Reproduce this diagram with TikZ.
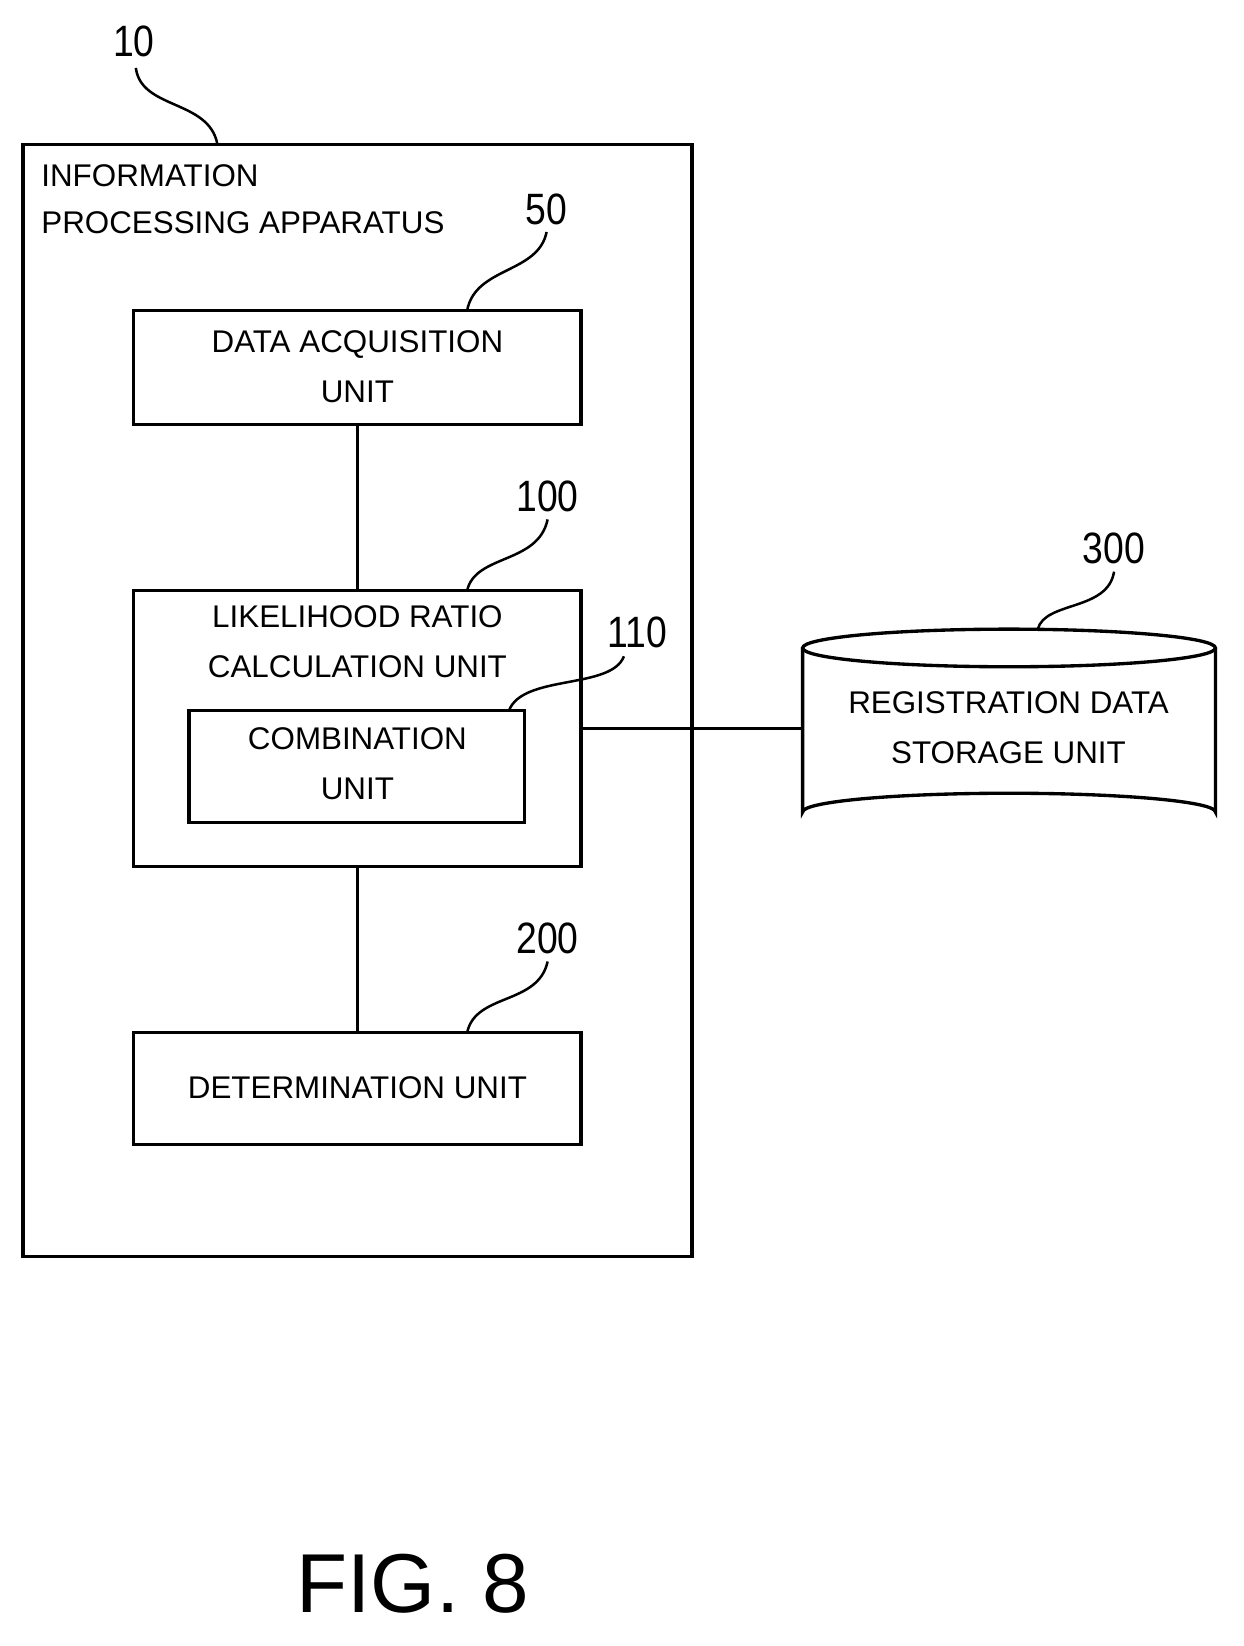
\documentclass[tikz,border=0pt]{standalone}
\usepackage{fontspec}
\setmainfont{Liberation Sans}
\usetikzlibrary{shapes.geometric}
\begin{document}
\begin{tikzpicture}[x=0.5pt,y=-0.5pt,line width=1.6pt,
  box/.style={draw,fill=white},
  txt/.style={font=\fontsize{15}{18}\selectfont,align=center,inner sep=0pt},
  num/.style={font=\fontsize{21}{24}\selectfont,inner sep=0pt,xscale=0.85},
  lead/.style={line width=1.2pt}]
\useasboundingbox (0,0) rectangle (1190,1575);
% outer
\draw (22,138) rectangle (662,1202);
\node[num] (n10) at (128,40) {10};
\draw[lead] (130,65) .. controls (135,105) and (200,95) .. (208,138);
\node[txt,anchor=west] (t1) at (38,168) {INFORMATION};
\node[txt,anchor=west] (t2) at (38,213) {PROCESSING APPARATUS};
% data acquisition
\draw[box] (128,297) rectangle (556,406);
\node[txt] (daq) at (342,351) {DATA ACQUISITION\\[6pt]UNIT};
\node[num] (n50) at (523,200) {50};
\draw[lead] (523,222) .. controls (515,262) and (455,255) .. (447,297);
% LRC
\draw (342,406) -- (342,565);
\draw[box] (128,565) rectangle (556,829);
\node[txt] (lrc) at (342,614) {LIKELIHOOD RATIO\\[6pt]CALCULATION UNIT};
\node[num] (n100) at (524,475) {100};
\draw[lead] (524,497) .. controls (515,540) and (455,530) .. (447,565);
% combination
\draw[box] (181,680) rectangle (502,787);
\node[txt] (comb) at (342,731) {COMBINATION\\[6pt]UNIT};
\node[num] (n110) at (610,605) {110};
\draw[lead] (597,628) .. controls (585,660) and (500,645) .. (487,680);
% determination
\draw (342,829) -- (342,988);
\draw[box] (128,988) rectangle (556,1095);
\node[txt] (det) at (342,1041) {DETERMINATION UNIT};
\node[num] (n200) at (524,898) {200};
\draw[lead] (524,920) .. controls (515,962) and (455,950) .. (447,988);
% cylinder
\draw (556,697) -- (768,697);
\draw[fill=white] (768,620) -- (768,777) arc[start angle=180,end angle=360,x radius=197.5,y radius=18] -- (1163,620);
\draw (965.5,620) ellipse[x radius=197.5,y radius=18];
\node[txt] (rds) at (965,696) {REGISTRATION DATA\\[6pt]STORAGE UNIT};
\node[num] (n300) at (1066,525) {300};
\draw[lead] (1066,547) .. controls (1060,585) and (1000,575) .. (993,602);
\node[font=\fontsize{40}{44}\selectfont,inner sep=0pt] (fig) at (395,1515) {FIG. 8};
\end{tikzpicture}
\end{document}
